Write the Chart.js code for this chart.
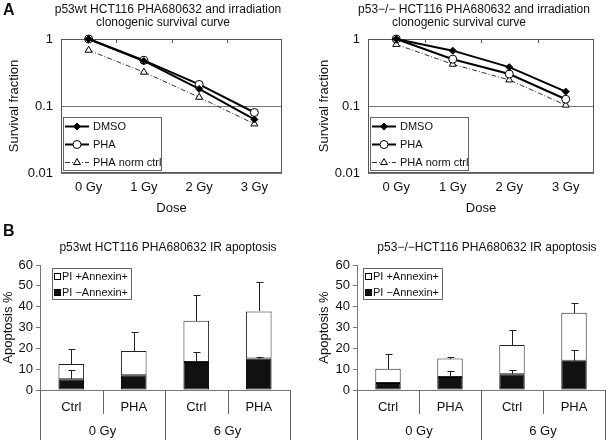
<!DOCTYPE html>
<html>
<head>
<meta charset="utf-8">
<script src="https://cdn.jsdelivr.net/npm/chart.js@4.4.0/dist/chart.umd.min.js"></script>
<style>
  body { margin: 0; background: #fff; }
  #wrap { position: relative; width: 607px; height: 440px; overflow: hidden; font-family: 'Liberation Sans', Arial, sans-serif; color: #111; }
  #wrap canvas { position: absolute; }
  .ttl { position: absolute; font-size: 12px; line-height: 13px; white-space: nowrap; transform: translateX(-50%); }
  .letter { position: absolute; font-size: 16px; font-weight: bold; }
</style>
</head>
<body>
<div id="wrap">
  <canvas id="survWt" width="300" height="220" style="left:0;top:0"></canvas>
  <canvas id="survKo" width="307" height="220" style="left:300px;top:0"></canvas>
  <canvas id="apoWt" width="300" height="220" style="left:0;top:220px"></canvas>
  <canvas id="apoKo" width="307" height="220" style="left:300px;top:220px"></canvas>

  <div class="letter" style="left:3px;top:1px">A</div>
  <div class="ttl" style="left:168px;top:3px">p53wt HCT116 PHA680632 and irradiation</div>
  <div class="ttl" style="left:163px;top:16px">clonogenic survival curve</div>
  <div class="ttl" style="left:474px;top:3px">p53−/− HCT116 PHA680632 and irradiation</div>
  <div class="ttl" style="left:459px;top:16px">clonogenic survival curve</div>

  <div class="letter" style="left:3px;top:222px">B</div>
  <div class="ttl" style="left:168px;top:241px">p53wt HCT116 PHA680632 IR apoptosis</div>
  <div class="ttl" style="left:487px;top:241px">p53−/−HCT116 PHA680632 IR apoptosis</div>
</div>

<script>
// clonogenic survival (fraction, log axis)
var doses = ['0 Gy', '1 Gy', '2 Gy', '3 Gy'];
var wtDmso = [1, 0.47, 0.18, 0.063];
var wtPha = [1, 0.48, 0.21, 0.08];
var wtPhaNorm = [0.68, 0.32, 0.135, 0.054];
var koDmso = [1, 0.67, 0.38, 0.164];
var koPha = [1, 0.5, 0.3, 0.126];
var koPhaNorm = [0.83, 0.42, 0.245, 0.103];
var survTicks = [0.01, 0.1, 1];

// apoptosis % (stacked: PI- Annexin+ at the bottom, PI+ Annexin+ on top)
var treatments = ['Ctrl', 'PHA', 'Ctrl', 'PHA'];
var irDoses = ['0 Gy', '6 Gy'];
var wtEarly = [5.2, 7.1, 13.4, 15.1];
var wtLate = [7.3, 11.6, 19.9, 22.6];
var wtEarlyErr = [4.2, 0, 4.7, 0.6];
var wtLateErr = [7.3, 9.2, 12.5, 14.0];
var koEarly = [3.4, 6.3, 7.6, 14.1];
var koLate = [6.8, 8.8, 14.0, 23.0];
var koEarlyErr = [0.3, 3.0, 2.0, 4.9];
var koLateErr = [6.9, 0.9, 7.2, 4.5];

var FONT = "'Liberation Sans', Arial, sans-serif";
Chart.defaults.font.family = FONT;
Chart.defaults.font.size = 13;
Chart.defaults.color = '#111';

function drawMarker(ctx, style, x, y, r) {
  ctx.beginPath();
  if (style === 'circle') {
    ctx.arc(x, y, r, 0, Math.PI * 2);
  } else if (style === 'rectRot') {
    ctx.moveTo(x, y - r); ctx.lineTo(x + r, y); ctx.lineTo(x, y + r); ctx.lineTo(x - r, y);
  } else if (style === 'triangle') {
    ctx.moveTo(x, y - r);
    ctx.lineTo(x + r * 0.866, y + r * 0.5);
    ctx.lineTo(x - r * 0.866, y + r * 0.5);
  }
  ctx.closePath();
  ctx.fill();
  ctx.stroke();
}

// frame round the plot area + little marks on the top edge
var plotFrame = {
  id: 'plotFrame',
  beforeDatasetsDraw: function (chart) {
    var a = chart.chartArea, ctx = chart.ctx, x = chart.scales.x;
    var step = x.getPixelForValue(1) - x.getPixelForValue(0);
    ctx.save();
    ctx.strokeStyle = '#555';
    ctx.lineWidth = 1;
    ctx.strokeRect(a.left + 0.5, a.top + 0.5, a.right - a.left - 1, a.bottom - a.top - 1);
    for (var i = 1; i < chart.data.labels.length; i++) {
      var bx = Math.round(x.getPixelForValue(0) - step / 2 + i * step) + 0.5;
      ctx.beginPath(); ctx.moveTo(bx, a.top); ctx.lineTo(bx, a.top + 4); ctx.stroke();
    }
    ctx.restore();
  }
};

// boxed legend drawn inside the plot area
var boxLegend = {
  id: 'boxLegend',
  afterDraw: function (chart, args, o) {
    var a = chart.chartArea, ctx = chart.ctx;
    var left = a.left + o.dx;
    var top = o.fromBottom ? a.bottom - o.dy - o.h : a.top + o.dy;
    ctx.save();
    ctx.fillStyle = '#fff';
    ctx.fillRect(left, top, o.w, o.h);
    ctx.strokeStyle = '#666';
    ctx.lineWidth = 1;
    ctx.strokeRect(left + 0.5, top + 0.5, o.w, o.h);
    ctx.font = o.fontSize + 'px ' + FONT;
    ctx.textBaseline = 'middle';
    o.order.forEach(function (di, row) {
      var ds = chart.data.datasets[di];
      var y = Math.round(top + o.firstRow + row * o.rowH) + 0.5;
      ctx.strokeStyle = ds.borderColor;
      if (o.kind === 'line') {
        ctx.lineWidth = ds.borderWidth;
        ctx.setLineDash(ds.borderDash || []);
        ctx.beginPath(); ctx.moveTo(left + 2, y); ctx.lineTo(left + 26, y); ctx.stroke();
        ctx.setLineDash([]);
        ctx.lineWidth = 1;
        ctx.strokeStyle = ds.pointBorderColor;
        ctx.fillStyle = ds.pointBackgroundColor;
        drawMarker(ctx, ds.pointStyle, left + 14, y, ds.pointRadius);
      } else {
        ctx.lineWidth = 1;
        ctx.strokeStyle = '#000';
        ctx.fillStyle = ds.backgroundColor;
        ctx.fillRect(left + 2.5, y - 3, 6, 6);
        ctx.strokeRect(left + 2.5, y - 3, 6, 6);
      }
      ctx.fillStyle = '#111';
      ctx.fillText(ds.label, left + o.textX, y);
    });
    ctx.restore();
  }
};

// upper error bars on the stacked segments
var errorBars = {
  id: 'errorBars',
  afterDatasetsDraw: function (chart) {
    var ctx = chart.ctx, y = chart.scales.y;
    ctx.save();
    ctx.strokeStyle = '#222';
    ctx.lineWidth = 1;
    chart.data.datasets.forEach(function (ds, di) {
      chart.getDatasetMeta(di).data.forEach(function (bar, i) {
        var e = ds.errors[i];
        if (!e) return;
        var sum = 0;
        for (var k = 0; k <= di; k++) sum += chart.data.datasets[k].data[i];
        var x = Math.round(bar.x) + 0.5;
        var yTop = Math.round(y.getPixelForValue(sum + e)) + 0.5;
        ctx.beginPath();
        ctx.moveTo(x, Math.round(bar.y));
        ctx.lineTo(x, yTop);
        ctx.moveTo(x - 3, yTop);
        ctx.lineTo(x + 4, yTop);
        ctx.stroke();
      });
    });
    ctx.restore();
  }
};

// divider lines of the two-level category axis
var groupAxis = {
  id: 'groupAxis',
  afterDraw: function (chart) {
    var a = chart.chartArea, ctx = chart.ctx, x = chart.scales.x;
    var n = chart.data.labels.length;
    var per = n / irDoses.length;
    var step = x.getPixelForValue(1) - x.getPixelForValue(0);
    ctx.save();
    ctx.strokeStyle = '#666';
    ctx.lineWidth = 1;
    for (var i = 0; i <= n; i++) {
      var bx = Math.round(x.getPixelForValue(0) - step / 2 + i * step) + 0.5;
      var bottom = (i % per === 0) ? chart.height : a.bottom + 24;
      ctx.beginPath(); ctx.moveTo(bx, a.bottom); ctx.lineTo(bx, bottom); ctx.stroke();
    }
    ctx.restore();
  }
};

function survivalChart(id, dmso, pha, norm, yWidth, titlePad, padRight) {
  return new Chart(document.getElementById(id), {
    type: 'line',
    data: {
      labels: doses,
      datasets: [
        { label: 'DMSO', data: dmso, borderColor: '#000', borderWidth: 2, clip: false,
          pointStyle: 'rectRot', pointRadius: 3.5, pointBackgroundColor: '#000', pointBorderColor: '#000', pointBorderWidth: 1 },
        { label: 'PHA', data: pha, borderColor: '#000', borderWidth: 2, clip: false,
          pointStyle: 'circle', pointRadius: 4, pointBackgroundColor: '#fff', pointBorderColor: '#000', pointBorderWidth: 1 },
        { label: 'PHA norm ctrl', data: norm, borderColor: '#333', borderWidth: 1, borderDash: [5, 2, 1, 2], clip: false,
          pointStyle: 'triangle', pointRadius: 4, pointBackgroundColor: '#fff', pointBorderColor: '#000', pointBorderWidth: 1 }
      ]
    },
    options: {
      responsive: false,
      animation: false,
      layout: { padding: { top: 39, right: padRight, bottom: 0, left: 0 } },
      plugins: {
        legend: { display: false },
        tooltip: { enabled: false },
        boxLegend: { kind: 'line', dx: 2, dy: 3, fromBottom: true, w: 98, h: 53,
                     firstRow: 9, rowH: 18, textX: 30, fontSize: 11, order: [0, 1, 2] }
      },
      scales: {
        x: {
          offset: true,
          grid: { display: false, drawTicks: false },
          border: { display: false },
          ticks: { padding: 7 },
          title: { display: true, text: 'Dose', padding: { top: 0, bottom: 4 } },
          afterFit: function (s) { s.height = 47; }
        },
        y: {
          type: 'logarithmic',
          min: 0.01,
          max: 1,
          afterBuildTicks: function (s) { s.ticks = survTicks.map(function (v) { return { value: v }; }); },
          ticks: { padding: 8, callback: function (v) { return String(v); } },
          grid: { color: '#777', drawTicks: false },
          border: { display: false },
          title: { display: true, text: 'Survival fraction', padding: { top: titlePad, bottom: 0 } },
          afterFit: function (s) { s.width = yWidth; }
        }
      }
    },
    plugins: [plotFrame, boxLegend]
  });
}

function apoptosisChart(id, early, late, earlyErr, lateErr, yWidth, titlePad, padRight, legendDx) {
  return new Chart(document.getElementById(id), {
    type: 'bar',
    data: {
      labels: treatments,
      datasets: [
        { label: 'PI −Annexin+', data: early, errors: earlyErr, backgroundColor: '#111', borderColor: '#000', borderWidth: 1, borderSkipped: false },
        { label: 'PI +Annexin+', data: late, errors: lateErr, backgroundColor: '#fff', borderColor: '#222', borderWidth: 1, borderSkipped: false }
      ]
    },
    options: {
      responsive: false,
      animation: false,
      layout: { padding: { top: 45, right: padRight, bottom: 0, left: 0 } },
      datasets: { bar: { barPercentage: 0.41, categoryPercentage: 1 } },
      plugins: {
        legend: { display: false },
        tooltip: { enabled: false },
        boxLegend: { kind: 'bar', dx: legendDx, dy: 3, fromBottom: false, w: 79, h: 31,
                     firstRow: 8, rowH: 16, textX: 10, fontSize: 11, order: [1, 0] }
      },
      scales: {
        x: {
          stacked: true,
          weight: 0,
          grid: { display: false, drawTicks: false },
          border: { color: '#777' },
          ticks: { padding: 10 },
          afterFit: function (s) { s.height = 30; }
        },
        x2: {
          type: 'category',
          labels: irDoses,
          position: 'bottom',
          offset: true,
          weight: 1,
          grid: { display: false, drawTicks: false },
          border: { display: false },
          ticks: { padding: 4 },
          afterFit: function (s) { s.height = 20; }
        },
        y: {
          stacked: true,
          min: 0,
          max: 60,
          ticks: { stepSize: 10, padding: 3 },
          grid: { drawOnChartArea: false, tickLength: 4, color: '#777' },
          border: { color: '#777' },
          title: { display: true, text: 'Apoptosis %', padding: { top: titlePad, bottom: 0 } },
          afterFit: function (s) { s.width = yWidth; }
        }
      }
    },
    plugins: [errorBars, groupAxis, boxLegend]
  });
}

survivalChart('survWt', wtDmso, wtPha, wtPhaNorm, 61, 7, 18);
survivalChart('survKo', koDmso, koPha, koPhaNorm, 68, 17, 13);
apoptosisChart('apoWt', wtEarly, wtLate, wtEarlyErr, wtLateErr, 40, 1, 10, 12);
apoptosisChart('apoKo', koEarly, koLate, koEarlyErr, koLateErr, 57, 17, 2, 6);
</script>
</body>
</html>
